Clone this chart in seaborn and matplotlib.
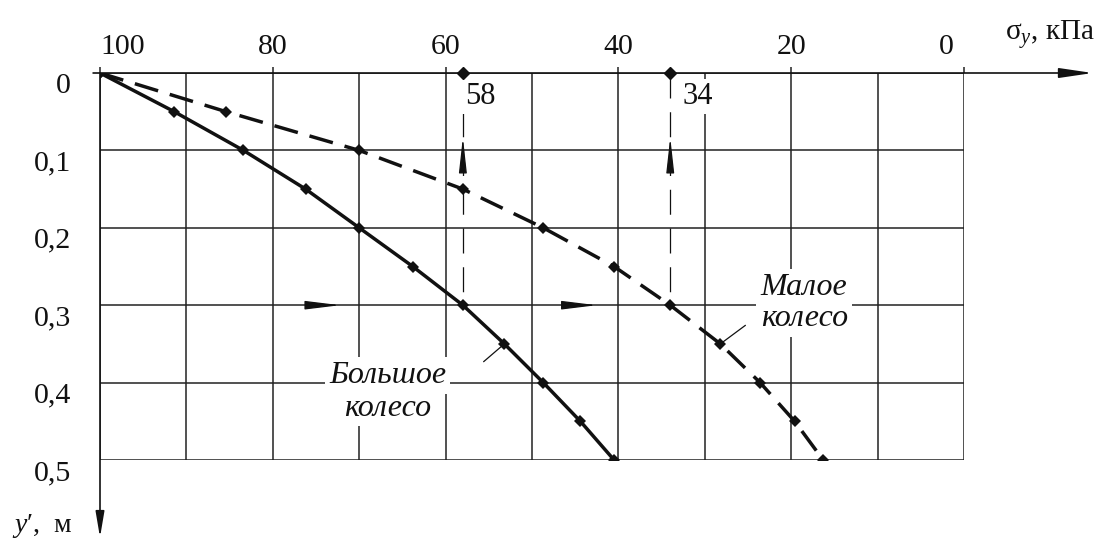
"""
Stress distribution with depth under a large and a small wheel
"""

import numpy as np
import pandas as pd
import matplotlib
matplotlib.use("Agg")
import matplotlib.pyplot as plt
from matplotlib.transforms import ScaledTranslation
import seaborn as sns

# =============================================================================
# DATA
# =============================================================================
depth = [0.0, 0.05, 0.10, 0.15, 0.20, 0.25, 0.30, 0.35, 0.40, 0.45, 0.50]
sigma_big = [100, 91.4, 83.4, 76.2, 70.0, 63.8, 58.0, 53.2, 48.7, 44.4, 40.5]
sigma_small = [100, 85.4, 70.0, 58.0, 48.7, 40.5, 34.0, 28.2, 23.6, 19.6, 16.3]

guide_sigma = [58, 34]          # read-off values at y' = 0.3
guide_depth = 0.3
guide_labels = ["58", "34"]

x_ticks = [100, 80, 60, 40, 20, 0]
x_minor = [90, 70, 50, 30, 10]
y_ticks = [0, 0.1, 0.2, 0.3, 0.4, 0.5]
y_labels = ["0", "0,1", "0,2", "0,3", "0,4", "0,5"]

label_big = ["Большое", "колесо"]
label_small = ["Малое", "колесо"]

# =============================================================================
# PLOT
# =============================================================================
sns.set_theme(style="white")
plt.rcParams["font.family"] = ["Liberation Serif", "DejaVu Serif"]
plt.rcParams["mathtext.fontset"] = "custom"
plt.rcParams["mathtext.rm"] = "Liberation Serif"
plt.rcParams["mathtext.it"] = "Liberation Serif:italic"

INK = "#111111"
GRID = "#222222"

fig = plt.figure(figsize=(11.09, 5.43), dpi=100)
ax = fig.add_axes([100 / 1109, 1 - 460 / 543, 864 / 1109, 387 / 543])

df_big = pd.DataFrame({"sigma": sigma_big, "depth": depth})
df_small = pd.DataFrame({"sigma": sigma_small, "depth": depth})

sns.lineplot(data=df_big, x="sigma", y="depth", ax=ax, estimator=None, sort=False,
             color=INK, lw=2.5, marker="D", markersize=6, markeredgewidth=0, zorder=5)
sns.lineplot(data=df_small, x="sigma", y="depth", ax=ax, estimator=None, sort=False,
             color=INK, lw=2.5, linestyle=(0, (7, 3.5)), marker="D", markersize=6,
             markeredgewidth=0, zorder=5)

ax.set_xlim(100, 0)
ax.set_ylim(0.5, 0)
for s in ax.spines.values():
    s.set_visible(False)

# grid + ticks
ax.xaxis.tick_top()
ax.set_xticks(x_ticks)
ax.set_xticks(x_minor, minor=True)
ax.set_xticklabels([str(v) for v in x_ticks])
ax.set_yticks(y_ticks)
ax.set_yticklabels(y_labels)
ax.grid(True, which="both", color=GRID, lw=1.1)
ax.tick_params(axis="x", which="major", length=4.5, width=1.1, color=GRID,
               direction="out", pad=5, labelsize=21.5, labelcolor=INK)
ax.tick_params(axis="x", which="minor", length=0)
ax.tick_params(axis="y", which="major", length=5, width=1.1, color=GRID,
               direction="out", pad=16, labelsize=21.5, labelcolor=INK)
ax.set_xlabel("")
ax.set_ylabel("")

# nudge edge labels / y labels like the original drawing
off = fig.dpi_scale_trans
xl = ax.get_xticklabels()
xl[0].set_transform(xl[0].get_transform() + ScaledTranslation(0.23, 0, off))
xl[-1].set_transform(xl[-1].get_transform() + ScaledTranslation(-0.18, 0, off))
for lbl in ax.get_yticklabels():
    lbl.set_transform(lbl.get_transform() + ScaledTranslation(0, -0.10, off))

# axis arrows
ax.annotate("", xy=(-14.9, 0), xytext=(100.8, 0), annotation_clip=False,
            arrowprops=dict(arrowstyle="-|>,head_length=1.7,head_width=0.25",
                            color=INK, lw=1.2, shrinkA=0, shrinkB=0))
ax.annotate("", xy=(100, 0.600), xytext=(100, 0), annotation_clip=False,
            arrowprops=dict(arrowstyle="-|>,head_length=1.3,head_width=0.22",
                            color=INK, lw=1.2, shrinkA=0, shrinkB=0))

# read-off guides
ax.vlines(guide_sigma, 0, guide_depth, colors=INK, lw=0.9,
          linestyles=[(0, (20, 11))], zorder=3)
ax.plot(guide_sigma, [0] * len(guide_sigma), ls="none", marker="D",
        markersize=6, color=INK, zorder=6, clip_on=False)
for gx in guide_sigma:
    ax.annotate("", xy=(gx, 0.083), xytext=(gx, 0.118),
                arrowprops=dict(arrowstyle="-|>,head_length=1.8,head_width=0.2",
                                color=INK, lw=0.9, shrinkA=0, shrinkB=0))
for gx, txt, tx in zip(guide_sigma, guide_labels, [56.0, 30.8]):
    ax.text(tx, 0.030, txt, fontsize=22, ha="center", va="center", color=INK,
            bbox=dict(boxstyle="square,pad=0.1", fc="white", ec="none"), zorder=4)

# horizontal arrows on y' = 0.3
for tip, base in [(72.2, 74.9), (42.5, 45.4)]:
    ax.annotate("", xy=(tip, guide_depth), xytext=(base, guide_depth),
                arrowprops=dict(arrowstyle="-|>,head_length=1.8,head_width=0.22",
                                color=INK, lw=0.9, shrinkA=0, shrinkB=0))

# curve labels
txt_kw = dict(fontsize=23, style="italic", ha="center", va="center", color=INK,
              bbox=dict(boxstyle="square,pad=0.12", fc="white", ec="none"), zorder=4)
ax.text(66.7, 0.391, label_big[0], **txt_kw)
ax.text(66.7, 0.433, label_big[1], **txt_kw)
ax.text(18.6, 0.277, label_small[0], **txt_kw)
ax.text(18.4, 0.317, label_small[1], **txt_kw)

# leader lines to the curves
ax.annotate("", xy=(sigma_big[7], depth[7]), xytext=(55.6, 0.373),
            arrowprops=dict(arrowstyle="-", color=INK, lw=0.9, shrinkA=0, shrinkB=2))
ax.annotate("", xy=(sigma_small[7], depth[7]), xytext=(25.3, 0.326),
            arrowprops=dict(arrowstyle="-", color=INK, lw=0.9, shrinkA=0, shrinkB=2))

# axis titles
ax.text(-4.8, -0.043, r"σ$_{\mathit{y}}$, кПа", fontsize=21, ha="left",
        va="baseline", color=INK, clip_on=False)
ax.text(110.2, 0.593, r"$y$′,  м", fontsize=20, ha="left", va="baseline",
        color=INK, clip_on=False)

fig.savefig("out.png", dpi=100)
plt.close(fig)
